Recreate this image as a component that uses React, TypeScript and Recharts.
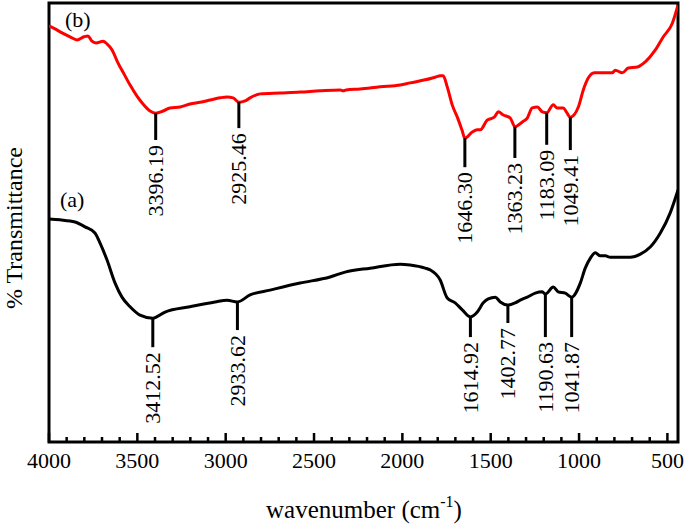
import React from "react";
import {
  ComposedChart,
  Line,
  XAxis,
  YAxis,
  Scatter,
  ReferenceLine,
  ReferenceArea,
} from "recharts";

const FONT = '"Liberation Serif", "Times New Roman", serif';
const serif = { fontFamily: FONT };

// spectrum (b), red
const bWave = [
  4000, 3966, 3926, 3881, 3841, 3802, 3779, 3757, 3734, 3694,
  3672, 3643, 3609, 3575, 3541, 3502, 3468, 3428, 3396.19, 3354,
  3315, 3258, 3202, 3145, 3088, 3032, 2992, 2958, 2925.46, 2890,
  2862, 2805, 2692, 2579, 2465, 2352, 2335, 2318, 2239, 2126,
  2012, 1956, 1871, 1814, 1786, 1769, 1746, 1718, 1689, 1662,
  1646.3, 1605, 1576, 1559, 1520, 1480, 1457, 1429, 1389, 1363.23,
  1321, 1293, 1265, 1236, 1208, 1183.09, 1146, 1123, 1089, 1072,
  1049.41, 1004, 976, 948, 914, 880, 851, 812, 795, 755,
  721, 670, 625, 568, 523, 472, 440,
];
const bT = [
  94.8, 94.1, 93.2, 92.3, 91.6, 92.3, 92.5, 91.3, 90.9, 91.3,
  90.7, 89.3, 86.3, 83.8, 81.3, 78.8, 77.0, 75.4, 74.9, 75.4,
  76.1, 76.3, 77.0, 77.4, 77.9, 78.4, 78.6, 78.4, 77.4, 77.7,
  78.4, 79.3, 79.5, 79.7, 80.0, 80.2, 80.0, 80.2, 80.4, 80.9,
  81.3, 81.8, 82.5, 83.1, 83.4, 83.4, 80.9, 76.8, 74.0, 71.0,
  69.2, 70.6, 71.1, 71.1, 73.3, 74.0, 75.2, 74.5, 73.8, 71.8,
  72.9, 73.8, 76.1, 76.3, 75.2, 75.0, 76.8, 76.1, 76.1, 75.2,
  74.0, 76.3, 80.2, 82.9, 84.1, 84.1, 84.1, 84.1, 84.7, 84.1,
  85.2, 85.4, 86.6, 89.3, 92.3, 95.4, 99.5,
];

// spectrum (a), black
const aWave = [
  4000, 3938, 3853, 3796, 3740, 3711, 3672, 3626, 3587, 3541,
  3485, 3412.52, 3343, 3202, 3060, 2992, 2933.62, 2862, 2749, 2579,
  2409, 2324, 2182, 2012, 1956, 1871, 1843, 1786, 1746, 1701,
  1661, 1614.92, 1576, 1542, 1514, 1474, 1446, 1402.77, 1361, 1333,
  1293, 1248, 1208, 1190.63, 1146, 1118, 1078, 1041.87, 993, 965,
  936, 908, 880, 851, 823, 710, 653, 597, 540, 484,
  440,
];
const aT = [
  50.8, 50.6, 50.1, 49.0, 47.6, 45.3, 41.5, 36.2, 33.0, 30.8,
  28.9, 28.2, 29.6, 30.8, 31.9, 32.3, 31.9, 33.5, 34.6, 36.2,
  37.6, 38.7, 39.6, 40.5, 40.3, 39.6, 39.2, 36.9, 32.8, 31.7,
  30.1, 28.5, 29.6, 31.7, 32.6, 33.0, 31.9, 31.2, 31.7, 32.3,
  33.0, 33.9, 34.2, 33.7, 35.3, 34.2, 33.9, 33.0, 36.2, 39.6,
  41.9, 43.1, 42.4, 42.4, 42.1, 42.1, 42.8, 44.4, 47.6, 52.2,
  57.4,
];

// marked bands: wavenumber, curve level, level where the stem ends
const bPeakWave = [3396.19, 2925.46, 1646.3, 1363.23, 1183.09, 1049.41];
const bPeakT = [74.9, 77.4, 69.2, 71.8, 75.0, 74.0];
const bPeakEnd = [68.8, 71.5, 62.6, 64.7, 67.7, 66.5];
const bPeakText = ["3396.19", "2925.46", "1646.30", "1363.23", "1183.09", "1049.41"];

const aPeakWave = [3412.52, 2933.62, 1614.92, 1402.77, 1190.63, 1041.87];
const aPeakT = [28.2, 31.9, 28.5, 31.2, 33.7, 33.0];
const aPeakEnd = [21.6, 25.5, 23.9, 27.1, 23.9, 23.9];
const aPeakText = ["3412.52", "2933.62", "1614.92", "1402.77", "1190.63", "1041.87"];

const majorTicks = [4000, 3500, 3000, 2500, 2000, 1500, 1000, 500];

const zip = (w: number[], t: number[]) => w.map((x, i) => ({ w: x, t: t[i] }));
const curveB = zip(bWave, bT);
const curveA = zip(aWave, aT);

const makePeaks = (w: number[], t: number[], end: number[], text: string[]) =>
  w.map((x, i) => ({ w: x, t: t[i], end: end[i], text: text[i] }));
const peaks = [
  ...makePeaks(bPeakWave, bPeakT, bPeakEnd, bPeakText),
  ...makePeaks(aPeakWave, aPeakT, aPeakEnd, aPeakText),
];
const peakLabels = peaks.map((p) => ({ w: p.w, t: p.end, text: p.text }));

const allTicks = majorTicks.flatMap((m) =>
  m === 500 ? [m] : [m, m - 100, m - 200, m - 300, m - 400]
);

const Tick = (props: any) => {
  const { x, y, payload } = props;
  const major = payload.value % 500 === 0;
  return (
    <g>
      <line x1={x} x2={x} y1={y} y2={y - (major ? 9 : 5)} stroke="#000" strokeWidth={2.5} />
      {major && (
        <text x={x} y={y + 26} textAnchor="middle" fontSize={22} style={serif} fill="#000">
          {payload.value}
        </text>
      )}
    </g>
  );
};

const PeakText = (props: any) => {
  const { cx, cy, payload } = props;
  const tx = cx + 7.5;
  const ty = cy + 5;
  return (
    <text
      x={tx}
      y={ty}
      transform={`rotate(-90 ${tx} ${ty})`}
      textAnchor="end"
      fontSize={22}
      style={serif}
      fill="#000"
    >
      {payload.text}
    </text>
  );
};

export default function App() {
  return (
    <div
      style={{
        position: "absolute",
        left: 0,
        top: 0,
        width: 688,
        height: 525,
        background: "#fff",
        fontFamily: FONT,
      }}
    >
      <ComposedChart
        width={688}
        height={525}
        margin={{ top: 3, right: 10, left: 49, bottom: 53 }}
        style={serif}
      >
        <XAxis
          dataKey="w"
          type="number"
          domain={[440, 4000]}
          reversed
          allowDataOverflow
          ticks={allTicks}
          interval={0}
          tick={<Tick />}
          tickLine={false}
          axisLine={false}
          tickSize={0}
          tickMargin={0}
          height={30}
        />
        <YAxis type="number" domain={[0, 100]} hide allowDataOverflow />
        <Line
          data={curveA}
          dataKey="t"
          type="monotone"
          stroke="#000"
          strokeWidth={3}
          dot={false}
          isAnimationActive={false}
        />
        <Line
          data={curveB}
          dataKey="t"
          type="monotone"
          stroke="#ff0000"
          strokeWidth={3}
          dot={false}
          isAnimationActive={false}
        />
        {peaks.map((p) => (
          <ReferenceLine
            key={p.text}
            segment={[
              { x: p.w, y: p.t },
              { x: p.w, y: p.end },
            ]}
            stroke="#000"
            strokeWidth={3}
          />
        ))}
        <Scatter
          data={peakLabels}
          dataKey="t"
          shape={<PeakText />}
          isAnimationActive={false}
        />
        <ReferenceArea
          x1={4000}
          x2={440}
          y1={0}
          y2={100}
          fill="none"
          fillOpacity={0}
          stroke="#000"
          strokeWidth={3}
        />
      </ComposedChart>
      <svg
        width={688}
        height={525}
        style={{ position: "absolute", left: 0, top: 0, pointerEvents: "none" }}
      >
        <text
          x={22}
          y={228}
          transform="rotate(-90 22 228)"
          textAnchor="middle"
          fontSize={24}
          style={serif}
          fill="#000"
        >
          % Transmittance
        </text>
        <text x={60} y={207} fontSize={22} style={serif} fill="#000">
          (a)
        </text>
        <text x={65} y={27} fontSize={22} style={serif} fill="#000">
          (b)
        </text>
        <text x={364} y={518} textAnchor="middle" fontSize={25} style={serif} fill="#000">
          wavenumber (cm
          <tspan fontSize={16} dy={-11}>-1</tspan>
          <tspan dy={11}>)</tspan>
        </text>
      </svg>
    </div>
  );
}
